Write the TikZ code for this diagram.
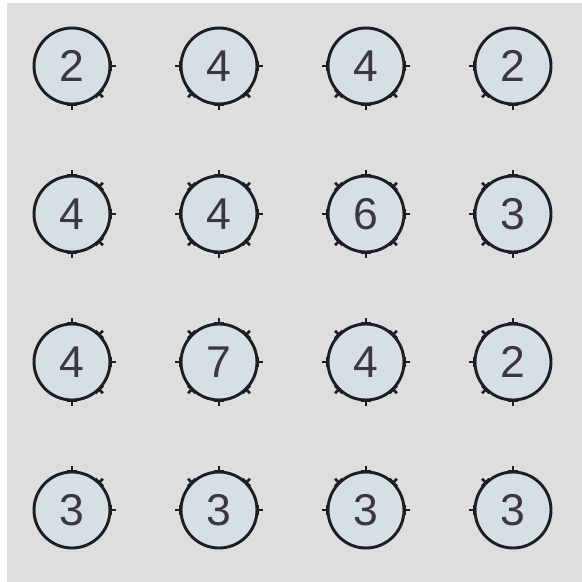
\documentclass[tikz,border=0pt]{standalone}
\usepackage{fontspec}
\setmainfont{Liberation Sans}
\usetikzlibrary{calc}
\definecolor{board}{HTML}{DEDEDF}
\definecolor{isleblue}{HTML}{D6E0E4}
\definecolor{ink}{HTML}{1E1E22}
\definecolor{digit}{HTML}{3B3642}
\tikzset{
  isle/.style={circle,draw=ink,fill=isleblue,line width=2.5pt,minimum size=2.28cm,
    inner sep=0pt,outer sep=0pt,text=digit,font=\fontsize{38}{38}\selectfont},
  bar/.style={draw=ink,line width=2.2pt},
}
\begin{document}
\begin{tikzpicture}[x=0.03cm,y=-0.03cm]
    \fill[white] (0,0) rectangle (582,582);
    \fill[board] (7,3) rectangle (582,582);
    \foreach \r/\c/\v in {1/1/2,1/2/4,1/3/4,1/4/2,
                          2/1/4,2/2/4,2/3/6,2/4/3,
                          3/1/4,3/2/7,3/3/4,3/4/2,
                          4/1/3,4/2/3,4/3/3,4/4/3}
        \node[isle] (n\r\c) at ({72+147*(\c-1)},{66+148*(\r-1)}) {\v};
    \foreach \r in {1,...,4}
    \foreach \c in {1,...,4}
    \foreach \dc/\dr in {1/0,1/1,0/1,-1/1,-1/0,-1/-1,0/-1,1/-1}{
        \pgfmathtruncatemacro\cc{\c+\dc}
        \pgfmathtruncatemacro\rr{\r+\dr}
        \ifnum\cc>0 \ifnum\cc<5 \ifnum\rr>0 \ifnum\rr<5
            \coordinate (p) at ($(n\r\c.center)!1.14cm+0.6pt!(n\rr\cc.center)$);
            \draw[bar] ($(p)!4.5pt!90:(n\r\c.center)$) -- ($(p)!4.5pt!-90:(n\r\c.center)$);
            \draw[bar] (p) -- ($(p)!-4.5pt!(n\r\c.center)$);
        \fi\fi\fi\fi
    }
\end{tikzpicture}
\end{document}
